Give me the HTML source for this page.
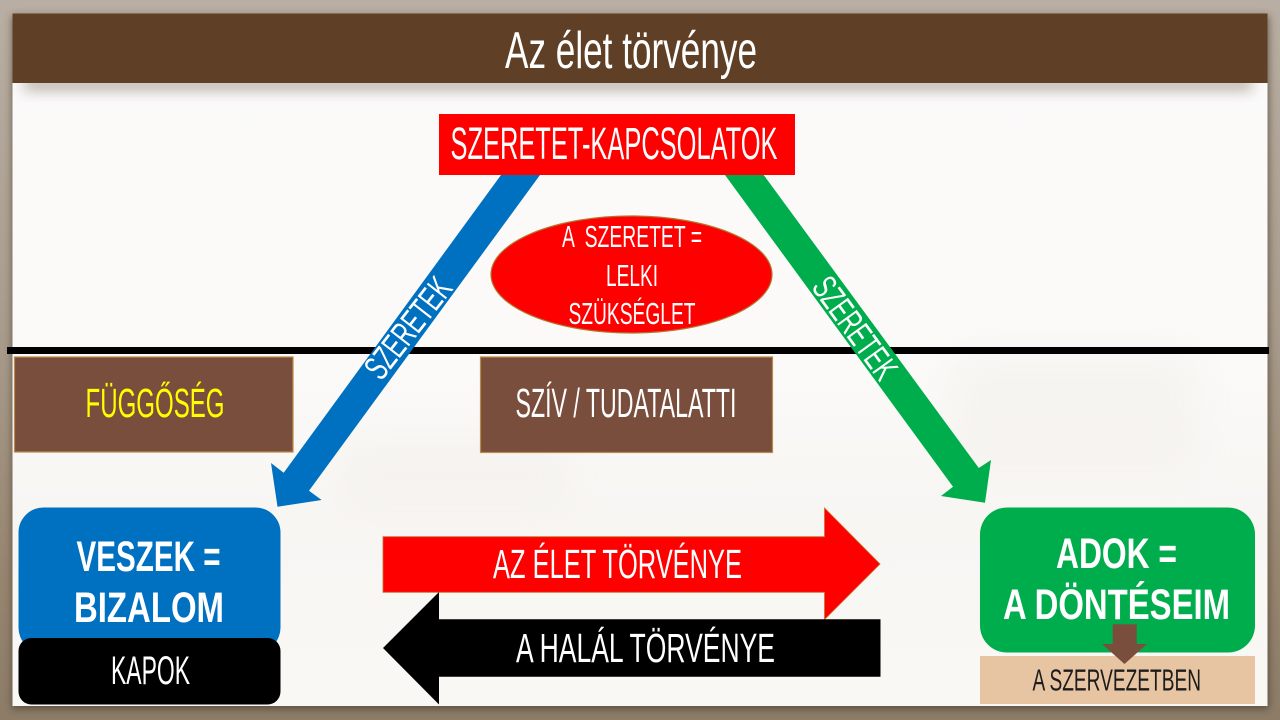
<!DOCTYPE html>
<html lang="hu"><head><meta charset="utf-8"><title>Az élet törvénye</title>
<style>html,body{margin:0;padding:0;background:#a89a8a}svg{display:block}text{font-family:"Liberation Sans",sans-serif;fill:#fff}</style></head>
<body>
<svg width="1280" height="720" viewBox="0 0 1280 720" xmlns="http://www.w3.org/2000/svg">
<defs>
<linearGradient id="bg" x1="0" y1="0" x2="0" y2="1">
<stop offset="0" stop-color="#b9aea3"/><stop offset=".45" stop-color="#a99c8d"/><stop offset=".8" stop-color="#96856f"/><stop offset="1" stop-color="#8c7c68"/>
</linearGradient>
<linearGradient id="pn" x1="0" y1="0" x2="0" y2="1">
<stop offset="0" stop-color="#fbfafa"/><stop offset=".5" stop-color="#fbfaf8"/><stop offset=".72" stop-color="#f8f6f3"/><stop offset="1" stop-color="#f9f8f5"/>
</linearGradient>
<filter id="b8" x="-5%" y="-100%" width="110%" height="300%"><feGaussianBlur stdDeviation="7"/></filter>
<filter id="b4" x="-5%" y="-5%" width="110%" height="110%"><feGaussianBlur stdDeviation="4"/></filter>
<filter id="b20" x="-30%" y="-30%" width="160%" height="160%"><feGaussianBlur stdDeviation="20"/></filter>
</defs>
<rect width="1280" height="720" fill="url(#bg)"/>
<rect x="12" y="16" width="1257" height="693" fill="#3e3124" opacity=".6" filter="url(#b4)"/>
<rect x="12.5" y="14" width="1255" height="692" fill="url(#pn)"/>
<g fill="#f1eee8" opacity=".45" filter="url(#b20)">
<rect x="340" y="440" width="230" height="70"/><rect x="950" y="350" width="250" height="120"/>
</g>
<rect x="24" y="78" width="1228" height="12" fill="#6a5a4a" opacity=".5" filter="url(#b8)"/>
<rect x="12.5" y="13.500" width="1255" height="69.500" fill="#5f3f25"/>
<text x="505" y="68" font-size="52" textLength="252" lengthAdjust="spacingAndGlyphs">Az élet törvénye</text>

<rect x="7" y="347" width="1262" height="7" fill="#000"/>

<polygon points="501,175 540,175 309,490.700 321.600,500 277.500,506.700 271,463 283.700,472.700" fill="#0070c0"/>
<polygon points="725,175 763.700,175 978.800,468 991,460 985,502.700 941,496 953,486.700" fill="#00ad4d"/>
<rect x="439" y="114" width="356" height="61" fill="#ff0000"/>
<text x="450.500" y="159" font-size="45" textLength="327" lengthAdjust="spacingAndGlyphs">SZERETET-KAPCSOLATOK</text>

<text transform="translate(408,328) rotate(-52)" y="12" font-size="35" text-anchor="middle" textLength="118" lengthAdjust="spacingAndGlyphs">SZERETEK</text>
<text transform="translate(855,328) rotate(54)" y="12" font-size="35" text-anchor="middle" textLength="118" lengthAdjust="spacingAndGlyphs">SZERETEK</text>

<ellipse cx="631.500" cy="274.500" rx="140.500" ry="58.500" fill="#ff0000" stroke="#b4762e" stroke-width="1.200"/>
<text x="562" y="247" font-size="31" textLength="140" lengthAdjust="spacingAndGlyphs" xml:space="preserve">A  SZERETET =</text>
<text x="606" y="286" font-size="31" textLength="52" lengthAdjust="spacingAndGlyphs">LELKI</text>
<text x="568.500" y="324" font-size="31" textLength="127" lengthAdjust="spacingAndGlyphs">SZÜKSÉGLET</text>

<rect x="14.500" y="357" width="278.500" height="95" fill="#7a4e3c" stroke="#b98a4a" stroke-width="1.200"/>
<text x="85.500" y="417" font-size="41" style="fill:#ffff00" textLength="139" lengthAdjust="spacingAndGlyphs">FÜGGŐSÉG</text>
<rect x="480.500" y="357" width="292" height="95.500" fill="#7a4e3c" stroke="#b98a4a" stroke-width="1.200"/>
<text x="515.500" y="417" font-size="41" textLength="221" lengthAdjust="spacingAndGlyphs">SZÍV / TUDATALATTI</text>

<rect x="18.500" y="507.500" width="262" height="145" rx="25" fill="#0070c0"/>
<text x="76.500" y="571" font-size="43" font-weight="bold" textLength="144" lengthAdjust="spacingAndGlyphs">VESZEK =</text>
<text x="74" y="622" font-size="43" font-weight="bold" textLength="150" lengthAdjust="spacingAndGlyphs">BIZALOM</text>
<rect x="18.500" y="638" width="262" height="66.500" rx="13" fill="#000"/>
<text x="111" y="684" font-size="40" textLength="79" lengthAdjust="spacingAndGlyphs">KAPOK</text>

<polygon points="383,536.700 824.500,536.700 824.500,508 880,564 824.500,619.500 824.500,592.300 383,592.300" fill="#ff0000" stroke="#c8702e" stroke-width=".8"/>
<text x="493" y="578" font-size="41" textLength="249" lengthAdjust="spacingAndGlyphs">AZ ÉLET TÖRVÉNYE</text>
<polygon points="383,648 439,592 439,619.300 880.500,619.300 880.500,676.700 439,676.700 439,704.500" fill="#000"/>
<text x="516" y="662" font-size="41" textLength="259" lengthAdjust="spacingAndGlyphs">A HALÁL TÖRVÉNYE</text>

<rect x="980" y="507.500" width="275" height="145" rx="27" fill="#00ad4d"/>
<text x="1056" y="568" font-size="43" font-weight="bold" textLength="121" lengthAdjust="spacingAndGlyphs">ADOK =</text>
<text x="1003" y="619" font-size="43" font-weight="bold" textLength="227" lengthAdjust="spacingAndGlyphs">A DÖNTÉSEIM</text>
<rect x="980" y="656" width="275" height="48" fill="#e8c5a2"/>
<text x="1032.500" y="690.500" font-size="31" style="fill:#1c1c1c" textLength="168.500" lengthAdjust="spacingAndGlyphs">A SZERVEZETBEN</text>
<polygon points="1112.700,624.300 1136.700,624.300 1136.700,644 1147,644 1124.500,664 1102,644 1112.700,644" fill="#7a4e3c"/>
</svg>
</body></html>
